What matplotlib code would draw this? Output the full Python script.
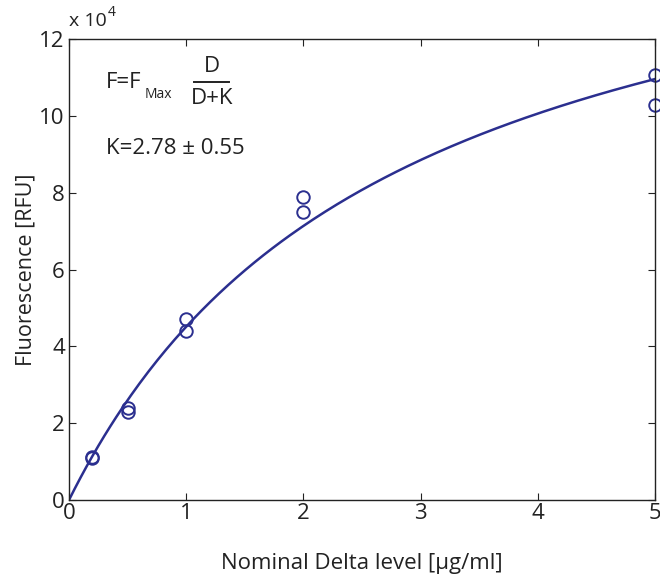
import numpy as np
from matplotlib import pyplot as plt
from matplotlib.lines import Line2D

# Измеренные точки (две повторности на каждый уровень)
dose = [0.2, 0.2, 0.5, 0.5, 1, 1, 2, 2, 5, 5]
fluor = [1.09e4, 1.12e4, 2.40e4, 2.30e4, 4.71e4, 4.41e4, 7.88e4, 7.50e4, 11.05e4, 10.28e4]

# Параметры аппроксимации F = Fmax * D / (D + K)
K = 2.78
F_max = 17.05e4

x_ticks = [0, 1, 2, 3, 4, 5]
y_ticks = [0, 2e4, 4e4, 6e4, 8e4, 10e4, 12e4]
y_tick_labels = ['0', '2', '4', '6', '8', '10', '12']

blue = '#2b2f8f'
dark = '#222222'
plt.rcParams['font.family'] = ['Open Sans', 'DejaVu Sans']

fig = plt.figure(dpi=100, figsize=(6.6, 5.77))
ax = fig.add_axes([69 / 660, 77 / 577, 586 / 660, 461 / 577])

d_fit = np.linspace(0, 5, 200)
ax.plot(d_fit, F_max * d_fit / (d_fit + K), color=blue, lw=1.8)
ax.plot(dose, fluor, 'o', mfc='none', mec=blue, mew=1.4, ms=9, clip_on=False)

ax.set_xlim(0, 5)
ax.set_ylim(0, 12e4)
ax.set_xticks(x_ticks)
ax.set_yticks(y_ticks)
ax.set_yticklabels(y_tick_labels)
ax.tick_params(axis='both', direction='in', length=5, labelsize=16, top=True, right=True,
               color=dark, labelcolor=dark)
ax.tick_params(axis='y', pad=3)
ax.tick_params(axis='x', pad=2)
for s in ax.spines.values():
    s.set_color(dark)
    s.set_linewidth(1.0)

ax.set_xlabel('Nominal Delta level [µg/ml]', fontsize=16, labelpad=21, color=dark)
ax.set_ylabel('Fluorescence [RFU]', fontsize=15.5, labelpad=2, color=dark)


def px(x, y):
    return x / 660, 1 - y / 577


# Множитель оси
fig.text(*px(69, 21), 'x 10', fontsize=14, va='center', ha='left', color=dark)
fig.text(*px(108, 12), '4', fontsize=10, va='center', ha='left', color=dark)

# Формула
fig.text(*px(106, 82), 'F=F', fontsize=16, va='center', ha='left', color=dark)
fig.text(*px(145, 95), 'Max', fontsize=10, va='center', ha='left', color=dark)
fig.text(*px(212, 67), 'D', fontsize=16, va='center', ha='center', color=dark)
fig.text(*px(212, 99), 'D+K', fontsize=16, va='center', ha='center', color=dark)
fig.add_artist(Line2D([194 / 660, 229 / 660], [1 - 82 / 577, 1 - 82 / 577],
                      transform=fig.transFigure, color=dark, lw=1.4))
fig.text(*px(106, 148), 'K=2.78 ± 0.55', fontsize=16, va='center', ha='left', color=dark)

plt.savefig('out.png', dpi=100)
